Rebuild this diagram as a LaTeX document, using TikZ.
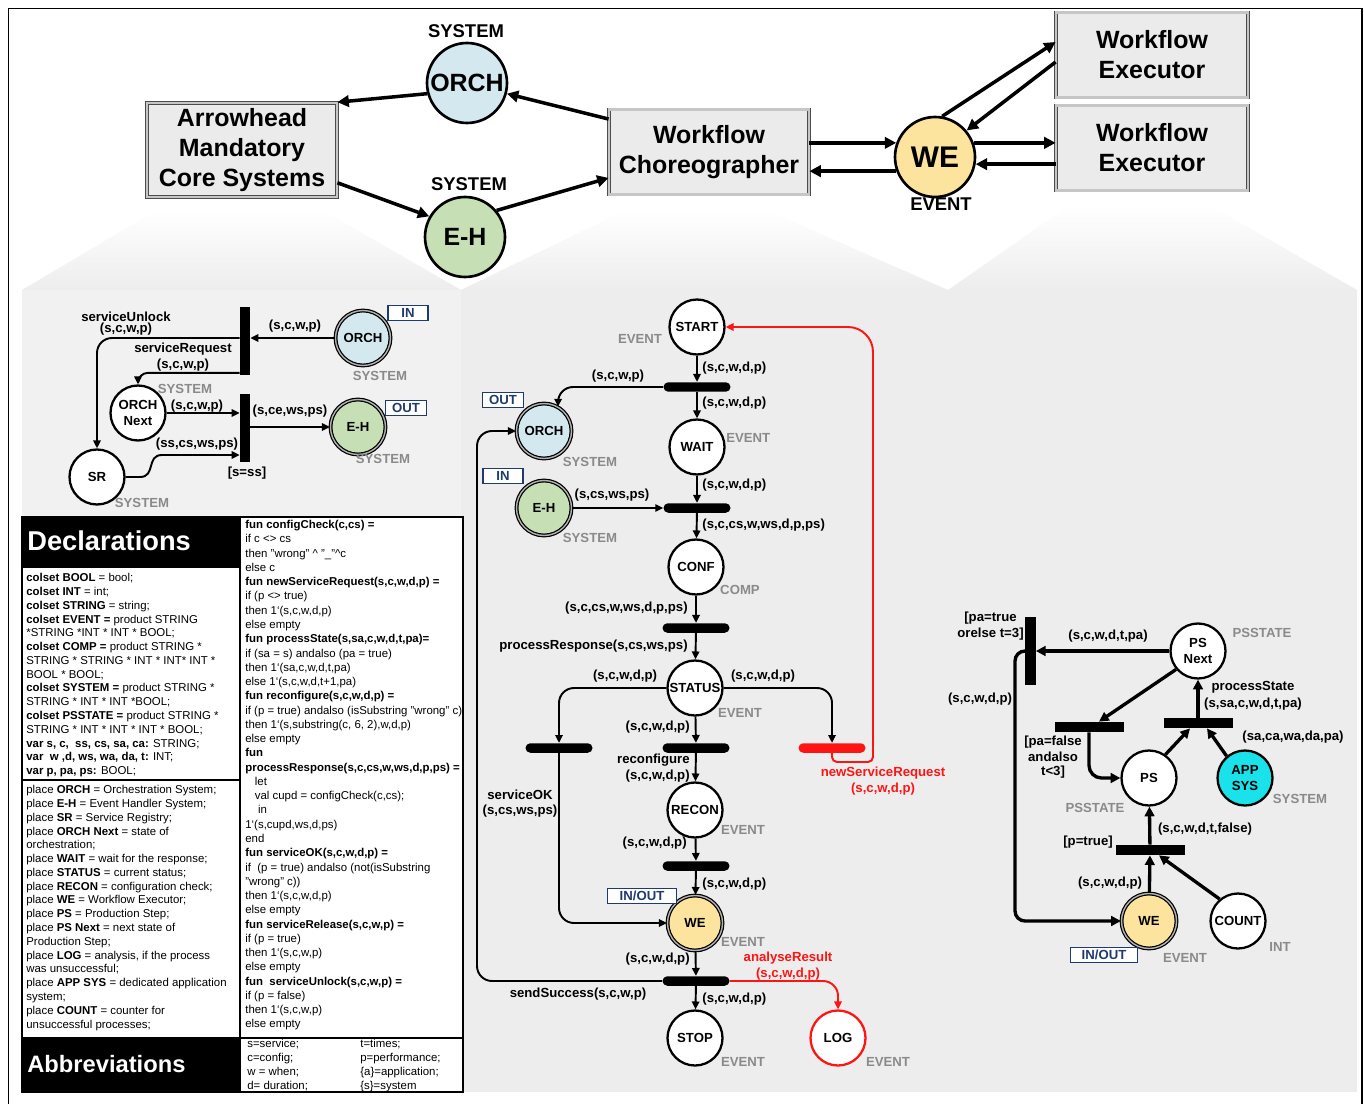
\documentclass[tikz,border=0pt]{standalone}
\usepackage{fontspec}
\setmainfont{Liberation Sans}
\usetikzlibrary{arrows.meta,calc,positioning}

\definecolor{panelgray}{HTML}{EDEDED}
\definecolor{boxgray}{HTML}{EBEBEB}
\definecolor{orchblue}{HTML}{D3E8EF}
\definecolor{ehgreen}{HTML}{C6DFB4}
\definecolor{weyellow}{HTML}{FCE39E}
\definecolor{appcyan}{HTML}{1AE2EA}
\definecolor{portnavy}{HTML}{1F3A6E}
\definecolor{typegray}{HTML}{8A8A8A}
\definecolor{logred}{HTML}{FF1414}

\newcommand{\lblfont}{\fontsize{7.5}{9}\selectfont\bfseries}
\newcommand{\declfont}{\fontsize{6.5}{7.85}\selectfont}
\newcommand{\funfont}{\fontsize{6.5}{8.12}\selectfont}
\newcommand{\topfont}{\fontsize{14.2}{17}\selectfont\bfseries}

\tikzset{
  place/.style={circle, draw, line width=1.3pt, fill=white, minimum size=1.1cm,
    inner sep=0pt, align=center, font=\lblfont},
  sysplace/.style={place, line width=0.7pt, double=gray!60, double distance=0.8pt},
  bigplace/.style={circle, draw, line width=1.5pt, minimum size=1.6cm,
    inner sep=0pt, font=\topfont},
  corebox/.style={rectangle, draw=black!70, line width=0.5pt, double=gray!45,
    double distance=1.2pt, fill=boxgray, minimum width=3.8cm, minimum height=1.7cm,
    align=center, font=\topfont},
  hbar/.style={rectangle, fill=black, minimum width=1.34cm, minimum height=0.19cm,
    rounded corners=0.095cm, inner sep=0pt},
  vbar/.style={rectangle, fill=black, minimum width=0.2cm, minimum height=1.38cm,
    inner sep=0pt},
  sqbar/.style={rectangle, fill=black, minimum width=1.38cm, minimum height=0.2cm,
    inner sep=0pt},
  flow/.style={-{Triangle[length=4.5pt,width=4.2pt]}, line width=1.1pt, rounded corners=0.3cm},
  redflow/.style={flow, draw=logred},
  fatflow/.style={-{Triangle[length=5.5pt,width=5.5pt]}, line width=1.9pt, rounded corners=0.25cm},
  topflow/.style={-{Triangle[length=6.5pt,width=6.5pt]}, line width=2pt},
  lbl/.style={font=\lblfont, inner sep=0pt},
  redlbl/.style={lbl, text=logred},
  typ/.style={font=\lblfont, text=typegray, inner sep=0pt},
  toptyp/.style={font=\fontsize{10.5}{12}\selectfont\bfseries, inner sep=0pt},
  port/.style={rectangle, draw=portnavy, line width=1.1pt, fill=white, text=portnavy,
    font=\lblfont, inner sep=0pt, minimum height=0.3cm},
  decl/.style={anchor=north west, inner sep=0pt, align=left},
  header/.style={anchor=west, inner sep=0pt, text=white, font=\bfseries}
}

\begin{document}
\begin{tikzpicture}[x=0.02cm, y=-0.02cm]
\useasboundingbox (0,0) rectangle (1364,1104);
\fill[white] (0,0) rectangle (1364,1104);

% background panels
\shade[top color=white, bottom color=panelgray] (157,210) -- (322,210) -- (461,290) -- (22,290) -- cycle;
\shade[top color=white, bottom color=panelgray] (626,210) -- (766,210) -- (948,290) -- (461,290) -- cycle;
\shade[top color=white, bottom color=panelgray] (1070,205) -- (1209,205) -- (1357,290) -- (948,290) -- cycle;
\fill[panelgray!75] (22,290) rectangle (461,517);
\fill[panelgray] (461,290) rectangle (948,1092);
\fill[panelgray] (948,290) rectangle (1357,1092);
\draw[line width=0.5pt] (8,1104) -- (8,8) -- (1362,8);
\draw[line width=1pt] (1362,8) -- (1362,1104);

% top level
\draw (242,150) node[corebox] (amcs) {Arrowhead\\Mandatory\\Core Systems};
\draw (709,152) node[corebox, minimum width=4cm] (wfc) {Workflow\\Choreographer};
\draw (1152,55) node[corebox, minimum width=3.84cm] (wfe1) {Workflow\\Executor};
\draw (1152,148) node[corebox, minimum width=3.84cm] (wfe2) {Workflow\\Executor};
\draw (467,83) node[bigplace, fill=orchblue] (orchT) {ORCH};
\draw (465,237) node[bigplace, fill=ehgreen] (ehT) {E-H};
\draw (935,157) node[bigplace, fill=weyellow, font=\fontsize{17}{17}\selectfont\bfseries] (weT) {WE};
\draw (466,31) node[toptyp] (sysOT) {SYSTEM};
\draw (469,184) node[toptyp] (sysET) {SYSTEM};
\draw (941,204) node[toptyp] (evWT) {EVENT};

\draw[topflow] (orchT.195) -- (amcs.north east);
\draw[topflow] ($(wfc.north west)+(0,10)$) -- (orchT.345);
\draw[topflow] ($(amcs.south east)+(0,-15)$) -- (ehT.150);
\draw[topflow] (ehT.40) -- ($(wfc.south west)+(0,-17)$);
\draw[topflow] (wfc.east |- weT.160) -- (weT.160);
\draw[topflow] (weT.200) -- (weT.200 -| wfc.east);
\draw[topflow] (weT.80) -- ($(wfe1.west)+(0,-13)$);
\draw[topflow] ($(wfe1.west)+(0,7)$) -- (weT.40);
\draw[topflow] (weT.20) -- (weT.20 -| wfe2.west);
\draw[topflow] (weT.350 -| wfe2.west) -- (weT.350);

% left net: orchestration
\draw (245,341) node[vbar] (T1) {};
\draw (245,428) node[vbar] (T2) {};
\draw (363,338) node[sysplace, fill=orchblue] (orchI) {ORCH};
\draw (358,427) node[sysplace, fill=ehgreen] (ehI) {E-H};
\draw (138,413) node[place] (orchN) {ORCH\\Next};
\draw (97,477) node[place] (sr) {SR};
\draw (408,313) node[port, minimum width=0.8cm] (inI) {IN};
\draw (406,408) node[port, minimum width=0.82cm] (outI) {OUT};
\draw (380,376) node[typ] (tyO) {SYSTEM};
\draw (383,459) node[typ] (tyE) {SYSTEM};
\draw (185,389) node[typ] (tyN) {SYSTEM};
\draw (142,503) node[typ] (tyS) {SYSTEM};

\draw[flow] (orchI) -- (orchI -| T1.east);
\draw[flow] (T1.west |- orchI) -| (sr.north);
\draw[flow, rounded corners=0.2cm] ($(T1.south west)+(0,-3)$) -| (orchN.north);
\draw[flow] (orchN) -- (orchN -| T2.west);
\coordinate (srA) at (140,477);
\coordinate (srB) at (162,455);
\draw[flow, sharp corners] (sr.east) -- (srA) .. controls (156,477) and (146,455) .. (srB) -- (srB -| T2.west);
\draw[flow] (T2.east |- ehI) -- (ehI);

\draw (295,326) node[lbl] (lA1) {(s,c,w,p)};
\draw (126,317) node[lbl] (lA2) {serviceUnlock};
\draw (126,329) node[lbl] (lA3) {(s,c,w,p)};
\draw (183,349) node[lbl] (lA4) {serviceRequest};
\draw (183,365) node[lbl] (lA5) {(s,c,w,p)};
\draw (197,406) node[lbl] (lA6) {(s,c,w,p)};
\draw (197,444) node[lbl] (lA7) {(ss,cs,ws,ps)};
\draw (290,411) node[lbl] (lA8) {(s,ce,ws,ps)};
\draw (247,473) node[lbl] (lA9) {[s=ss]};

% middle net: choreography
\draw (697,327) node[place] (start) {START};
\draw (697,387) node[hbar] (Ta) {};
\draw (697,447) node[place] (wait) {WAIT};
\draw (544,431) node[sysplace, fill=orchblue] (orchO) {ORCH};
\draw (544,508) node[sysplace, fill=ehgreen] (ehM) {E-H};
\draw (697,508) node[hbar] (Tb) {};
\draw (696,567) node[place] (conf) {CONF};
\draw (696,628) node[hbar] (Tc) {};
\draw (695,688) node[place] (status) {STATUS};
\draw (559,748) node[hbar] (Td) {};
\draw (696,748) node[hbar] (Te) {};
\draw (832,748) node[hbar, fill=logred] (Tf) {};
\draw (695,810) node[place] (recon) {RECON};
\draw (696,866) node[hbar] (Tg) {};
\draw (695,923) node[sysplace, fill=weyellow] (weM) {WE};
\draw (696,981) node[hbar] (Th) {};
\draw (695,1038) node[place] (stop) {STOP};
\draw (838,1038) node[place, draw=logred] (log) {LOG};
\draw (503,400) node[port, minimum width=0.82cm] (outM) {OUT};
\draw (503,476) node[port, minimum width=0.8cm] (inM) {IN};
\draw (642,896) node[port, minimum width=1.38cm] (ioM) {IN/OUT};

\draw[flow] (start) -- (Ta);
\draw[flow] (Ta) -- (wait);
\draw[flow] (Ta.west) -| (orchO.60);
\draw[flow] (wait) -- (Tb);
\draw[flow] (ehM) -- (ehM -| Tb.west);
\draw[flow] (Tb) -- (conf);
\draw[flow] (conf) -- (Tc);
\draw[flow] (Tc) -- (status);
\draw[flow] (status.west) -| (Td.north);
\draw[flow] (status) -- (Te);
\draw[flow] (status.east) -| (Tf.north);
\coordinate (redC) at (873,762);
\draw[redflow, rounded corners=0.1cm] (Tf.south) |- (redC) [rounded corners=0.5cm] |- (start.east);
\draw[flow] (Te) -- (recon);
\draw[flow] (Td.south) |- (weM.west);
\draw[flow] (recon) -- (Tg);
\draw[flow] (Tg) -- (weM);
\draw[flow] (weM) -- (Th);
\draw[flow] (Th) -- (stop);
\coordinate (sendC) at (477,700);
\draw[flow] (Th.west) -| (sendC) |- (orchO.west);
\draw[redflow] (Th.east) -| (log.north);

\draw (640,339) node[typ] (tyB1) {EVENT};
\draw (726,438) node[typ, anchor=west] (tyB2) {EVENT};
\draw (590,462) node[typ] (tyB3) {SYSTEM};
\draw (590,538) node[typ] (tyB4) {SYSTEM};
\draw (740,590) node[typ] (tyB5) {COMP};
\draw (740,713) node[typ] (tyB6) {EVENT};
\draw (743,830) node[typ] (tyB7) {EVENT};
\draw (743,942) node[typ] (tyB8) {EVENT};
\draw (743,1062) node[typ] (tyB9) {EVENT};
\draw (888,1062) node[typ] (tyB10) {EVENT};

\draw (702,368) node[lbl, anchor=west] (lB1) {(s,c,w,d,p)};
\draw (618,376) node[lbl] (lB2) {(s,c,w,p)};
\draw (702,403) node[lbl, anchor=west] (lB3) {(s,c,w,d,p)};
\draw (702,485) node[lbl, anchor=west] (lB4) {(s,c,w,d,p)};
\draw (612,495) node[lbl] (lB5) {(s,cs,ws,ps)};
\draw (702,525) node[lbl, anchor=west] (lB6) {(s,c,cs,w,ws,d,p,ps)};
\draw (688,608) node[lbl, anchor=east] (lB7) {(s,c,cs,w,ws,d,p,ps)};
\draw (688,646) node[lbl, anchor=east] (lB8) {processResponse(s,cs,ws,ps)};
\draw (625,676) node[lbl] (lB9) {(s,c,w,d,p)};
\draw (763,676) node[lbl] (lB10) {(s,c,w,d,p)};
\draw (690,727) node[lbl, anchor=east] (lB11) {(s,c,w,d,p)};
\draw (690,760) node[lbl, anchor=east] (lB12) {reconfigure};
\draw (690,776) node[lbl, anchor=east] (lB13) {(s,c,w,d,p)};
\draw (883,773) node[redlbl] (lB14) {newServiceRequest};
\draw (883,789) node[redlbl] (lB15) {(s,c,w,d,p)};
\draw (520,795) node[lbl] (lB16) {serviceOK};
\draw (520,811) node[lbl] (lB17) {(s,cs,ws,ps)};
\draw (687,843) node[lbl, anchor=east] (lB18) {(s,c,w,d,p)};
\draw (702,884) node[lbl, anchor=west] (lB19) {(s,c,w,d,p)};
\draw (690,959) node[lbl, anchor=east] (lB20) {(s,c,w,d,p)};
\draw (788,958) node[redlbl] (lB21) {analyseResult};
\draw (788,974) node[redlbl] (lB22) {(s,c,w,d,p)};
\draw (578,994) node[lbl] (lB23) {sendSuccess(s,c,w,p)};
\draw (702,999) node[lbl, anchor=west] (lB24) {(s,c,w,d,p)};

% right net: production step
\draw (1030,651) node[vbar, minimum width=0.22cm, minimum height=1.36cm] (Tr1) {};
\draw (1198,651) node[place] (psN) {PS\\Next};
\draw (1089,727) node[sqbar] (Tr2) {};
\draw (1198,723) node[sqbar] (Tr3) {};
\draw (1149,778) node[place] (ps) {PS};
\draw (1245,778) node[place, fill=appcyan] (appsys) {APP\\SYS};
\draw (1150,850) node[sqbar] (Tr4) {};
\draw (1149,921) node[sysplace, fill=weyellow] (weR) {WE};
\draw (1238,921) node[place] (count) {COUNT};
\draw (1104,955) node[port, minimum width=1.34cm] (ioR) {IN/OUT};

\draw[fatflow] (psN) -- (psN -| Tr1.east);
\coordinate (weC) at (1015,800);
\draw[fatflow, rounded corners=0.2cm] (Tr1.west |- psN) -| (weC) |- (weR.west);
\draw[fatflow] (psN.220) -- ($(Tr2.north)+(10,0)$);
\draw[fatflow] (Tr2.south) |- (ps.west);
\draw[fatflow] (ps.55) -- ($(Tr3.south)+(-8,0)$);
\draw[fatflow] (appsys.130) -- ($(Tr3.south)+(9,0)$);
\draw[fatflow] (Tr3) -- (psN);
\draw[fatflow] (Tr4) -- (ps);
\draw[fatflow] (weR) -- (Tr4);
\draw[fatflow] (count.130) -- ($(Tr4.south)+(9,0)$);

\draw (1017,618) node[lbl, anchor=east] (lC1) {[pa=true};
\draw (1024,634) node[lbl, anchor=east] (lC2) {orelse t=3]};
\draw (1108,636) node[lbl] (lC3) {(s,c,w,d,t,pa)};
\draw (980,699) node[lbl] (lC4) {(s,c,w,d,p)};
\draw (1253,687) node[lbl] (lC5) {processState};
\draw (1253,704) node[lbl] (lC6) {(s,sa,c,w,d,t,pa)};
\draw (1293,737) node[lbl] (lC7) {(sa,ca,wa,da,pa)};
\draw (1053,742) node[lbl] (lC8) {[pa=false};
\draw (1053,757) node[lbl] (lC9) {andalso};
\draw (1053,772) node[lbl] (lC10) {t<3]};
\draw (1205,829) node[lbl] (lC11) {(s,c,w,d,t,false)};
\draw (1088,842) node[lbl] (lC12) {[p=true]};
\draw (1110,883) node[lbl] (lC13) {(s,c,w,d,p)};
\draw (1262,633) node[typ] (tyC1) {PSSTATE};
\draw (1095,808) node[typ] (tyC2) {PSSTATE};
\draw (1300,799) node[typ] (tyC3) {SYSTEM};
\draw (1280,947) node[typ] (tyC4) {INT};
\draw (1185,958) node[typ] (tyC5) {EVENT};

% declarations
\fill[white] (22,517) rectangle (463,1092);
\fill[black] (22,517) rectangle (240,567);
\fill[black] (22,1039) rectangle (240,1092);
\draw[line width=0.8pt] (22,517) rectangle (463,1092);
\draw[line width=0.8pt] (240,517) -- (240,1092);
\draw[line width=0.8pt] (22,567) -- (240,567);
\draw[line width=0.8pt] (22,780) -- (240,780);
\draw[line width=0.8pt] (22,1038) -- (463,1038);
\draw (27,541) node[header, font=\fontsize{15.5}{16}\selectfont\bfseries] (hDecl) {Declarations};
\draw (27,1064) node[header, font=\fontsize{13.5}{14}\selectfont\bfseries] (hAbbr) {Abbreviations};

\draw (26,573) node[decl, font=\declfont] (colsets) {%
\textbf{colset BOOL} = bool;\\
\textbf{colset INT} = int;\\
\textbf{colset STRING} = string;\\
\textbf{colset EVENT =} product STRING\\
*STRING *INT * INT * BOOL;\\
\textbf{colset COMP =} product STRING *\\
STRING * STRING * INT * INT* INT *\\
BOOL * BOOL;\\
\textbf{colset SYSTEM =} product STRING *\\
STRING * INT * INT *BOOL;\\
\textbf{colset PSSTATE =} product STRING *\\
STRING * INT * INT * INT * BOOL;\\
\textbf{var s, c,\ \ ss, cs, sa, ca:} STRING;\\
\textbf{var\ \ w ,d, ws, wa, da, t:} INT;\\
\textbf{var p, pa, ps:} BOOL;};

\draw (26,785) node[decl, font=\declfont] (places) {%
place \textbf{ORCH} = Orchestration System;\\
place \textbf{E-H} = Event Handler System;\\
place \textbf{SR} = Service Registry;\\
place \textbf{ORCH Next} = state of\\
orchestration;\\
place \textbf{WAIT} = wait for the response;\\
place \textbf{STATUS} = current status;\\
place \textbf{RECON} = configuration check;\\
place \textbf{WE} = Workflow Executor;\\
place \textbf{PS} = Production Step;\\
place \textbf{PS Next} = next state of\\
Production Step;\\
place \textbf{LOG} = analysis, if the process\\
was unsuccessful;\\
place \textbf{APP SYS} = dedicated application\\
system;\\
place \textbf{COUNT} = counter for\\
unsuccessful processes;};

\draw (245,520) node[decl, font=\funfont] (funs) {%
\textbf{fun configCheck(c,cs) =}\\
if c <> cs\\
then "wrong" \textasciicircum{} "\_"\textasciicircum c\\
else c\\
\textbf{fun newServiceRequest(s,c,w,d,p) =}\\
if (p <> true)\\
then 1`(s,c,w,d,p)\\
else empty\\
\textbf{fun processState(s,sa,c,w,d,t,pa)=}\\
if (sa = s) andalso (pa = true)\\
then 1`(sa,c,w,d,t,pa)\\
else 1`(s,c,w,d,t+1,pa)\\
\textbf{fun reconfigure(s,c,w,d,p) =}\\
if (p = true) andalso (isSubstring "wrong" c)\\
then 1`(s,substring(c, 6, 2),w,d,p)\\
else empty\\
\textbf{fun}\\
\textbf{processResponse(s,c,cs,w,ws,d,p,ps) =}\\
\ \ \ let\\
\ \ \ val cupd = configCheck(c,cs);\\
\ \ \ \ in\\
1`(s,cupd,ws,d,ps)\\
end\\
\textbf{fun serviceOK(s,c,w,d,p) =}\\
if\ \ (p = true) andalso (not(isSubstring\\
"wrong" c))\\
then 1`(s,c,w,d,p)\\
else empty\\
\textbf{fun serviceRelease(s,c,w,p) =}\\
if (p = true)\\
then 1`(s,c,w,p)\\
else empty\\
\textbf{fun\ \ serviceUnlock(s,c,w,p) =}\\
if (p = false)\\
then 1`(s,c,w,p)\\
else empty};

\draw (247,1039) node[decl, font=\fontsize{6.5}{7.95}\selectfont] (abbrA) {%
s=service;\\ c=config;\\ w = when;\\ d= duration;};
\draw (360,1039) node[decl, font=\fontsize{6.5}{7.95}\selectfont] (abbrB) {%
t=times;\\ p=performance;\\ \{a\}=application;\\ \{s\}=system};
\end{tikzpicture}
\end{document}
